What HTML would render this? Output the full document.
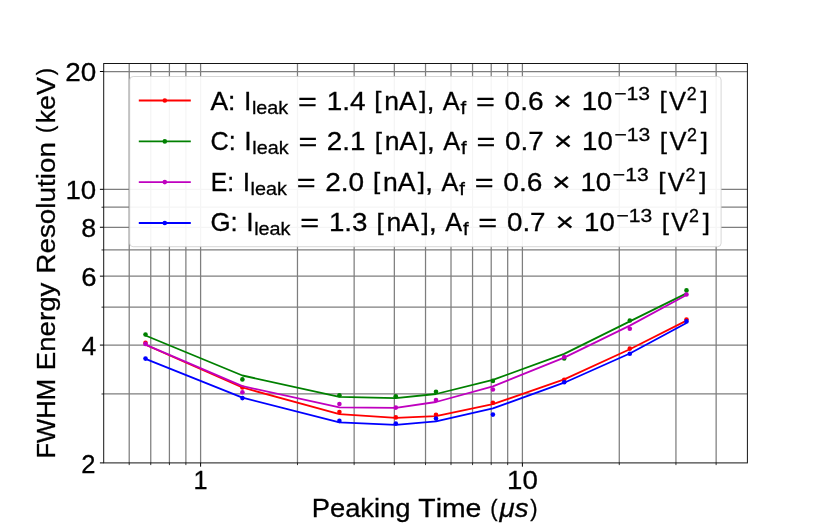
<!DOCTYPE html>
<html lang="en"><head><meta charset="utf-8"><title>FWHM Energy Resolution vs Peaking Time</title>
<style>html,body{margin:0;padding:0;background:#ffffff;}body{width:830px;height:529px;overflow:hidden;}svg{display:block;}text{font-family:"Liberation Sans",sans-serif;}</style></head>
<body>
<svg width="830" height="529" viewBox="0 0 830 529">
<rect x="0" y="0" width="830" height="529" fill="#ffffff"/>
<g stroke="#7e7e7e" stroke-width="1.25" fill="none">
<line x1="129.21" y1="63.5" x2="129.21" y2="462.9"/>
<line x1="150.75" y1="63.5" x2="150.75" y2="462.9"/>
<line x1="169.41" y1="63.5" x2="169.41" y2="462.9"/>
<line x1="185.88" y1="63.5" x2="185.88" y2="462.9"/>
<line x1="200.60" y1="63.5" x2="200.60" y2="462.9"/>
<line x1="297.47" y1="63.5" x2="297.47" y2="462.9"/>
<line x1="354.14" y1="63.5" x2="354.14" y2="462.9"/>
<line x1="394.34" y1="63.5" x2="394.34" y2="462.9"/>
<line x1="425.53" y1="63.5" x2="425.53" y2="462.9"/>
<line x1="451.01" y1="63.5" x2="451.01" y2="462.9"/>
<line x1="472.55" y1="63.5" x2="472.55" y2="462.9"/>
<line x1="491.21" y1="63.5" x2="491.21" y2="462.9"/>
<line x1="507.68" y1="63.5" x2="507.68" y2="462.9"/>
<line x1="522.40" y1="63.5" x2="522.40" y2="462.9"/>
<line x1="619.27" y1="63.5" x2="619.27" y2="462.9"/>
<line x1="675.94" y1="63.5" x2="675.94" y2="462.9"/>
<line x1="716.14" y1="63.5" x2="716.14" y2="462.9"/>
<line x1="103.7" y1="393.98" x2="747.4" y2="393.98"/>
<line x1="103.7" y1="345.08" x2="747.4" y2="345.08"/>
<line x1="103.7" y1="307.15" x2="747.4" y2="307.15"/>
<line x1="103.7" y1="276.15" x2="747.4" y2="276.15"/>
<line x1="103.7" y1="249.95" x2="747.4" y2="249.95"/>
<line x1="103.7" y1="227.25" x2="747.4" y2="227.25"/>
<line x1="103.7" y1="207.23" x2="747.4" y2="207.23"/>
<line x1="103.7" y1="189.32" x2="747.4" y2="189.32"/>
<line x1="103.7" y1="71.50" x2="747.4" y2="71.50"/>
</g>
<g fill="#ff0000"><circle cx="145.5" cy="342.9" r="2.3"/><circle cx="242.4" cy="387.5" r="2.3"/><circle cx="339.4" cy="412.0" r="2.3"/><circle cx="395.8" cy="417.4" r="2.3"/><circle cx="436.0" cy="414.8" r="2.3"/><circle cx="492.9" cy="402.8" r="2.3"/><circle cx="564.2" cy="379.8" r="2.3"/><circle cx="629.8" cy="348.6" r="2.3"/><circle cx="686.5" cy="319.5" r="2.3"/></g>
<polyline points="145.5,344.7 242.4,387.5 339.4,414.2 395.8,417.8 436.0,416.1 492.9,404.2 564.2,379.4 629.8,349.2 686.5,320.6" fill="none" stroke="#ff0000" stroke-width="1.8" stroke-linejoin="round" stroke-linecap="butt"/>
<g fill="#008000"><circle cx="145.5" cy="334.5" r="2.3"/><circle cx="242.4" cy="379.4" r="2.3"/><circle cx="339.4" cy="395.3" r="2.3"/><circle cx="395.8" cy="396.2" r="2.3"/><circle cx="436.0" cy="391.7" r="2.3"/><circle cx="492.9" cy="380.9" r="2.3"/><circle cx="564.2" cy="358.5" r="2.3"/><circle cx="629.8" cy="320.5" r="2.3"/><circle cx="686.5" cy="290.4" r="2.3"/></g>
<polyline points="145.5,335.5 242.4,375.5 339.4,396.8 395.8,398.2 436.0,394.0 492.9,379.9 564.2,353.9 629.8,321.4 686.5,293.4" fill="none" stroke="#008000" stroke-width="1.8" stroke-linejoin="round" stroke-linecap="butt"/>
<g fill="#bf00bf"><circle cx="145.5" cy="343.9" r="2.3"/><circle cx="242.4" cy="392.3" r="2.3"/><circle cx="339.4" cy="404.0" r="2.3"/><circle cx="395.8" cy="407.6" r="2.3"/><circle cx="436.0" cy="400.1" r="2.3"/><circle cx="492.9" cy="389.5" r="2.3"/><circle cx="564.2" cy="357.0" r="2.3"/><circle cx="629.8" cy="328.8" r="2.3"/><circle cx="686.5" cy="294.5" r="2.3"/></g>
<polyline points="145.5,344.7 242.4,386.1 339.4,407.4 395.8,407.8 436.0,402.0 492.9,386.3 564.2,357.6 629.8,325.6 686.5,295.0" fill="none" stroke="#bf00bf" stroke-width="1.8" stroke-linejoin="round" stroke-linecap="butt"/>
<g fill="#0000ff"><circle cx="145.5" cy="358.6" r="2.3"/><circle cx="242.4" cy="398.1" r="2.3"/><circle cx="339.4" cy="420.9" r="2.3"/><circle cx="395.8" cy="423.6" r="2.3"/><circle cx="436.0" cy="418.6" r="2.3"/><circle cx="492.9" cy="414.6" r="2.3"/><circle cx="564.2" cy="382.3" r="2.3"/><circle cx="629.8" cy="353.8" r="2.3"/><circle cx="686.5" cy="321.4" r="2.3"/></g>
<polyline points="145.5,358.8 242.4,397.7 339.4,422.3 395.8,424.8 436.0,421.3 492.9,408.4 564.2,382.7 629.8,353.5 686.5,323.0" fill="none" stroke="#0000ff" stroke-width="1.8" stroke-linejoin="round" stroke-linecap="butt"/>
<rect x="103.7" y="63.5" width="643.7" height="399.4" fill="none" stroke="#151515" stroke-width="1.0"/>
<g stroke="#000" stroke-width="1">
<line x1="200.60" y1="462.9" x2="200.60" y2="466.7"/>
<line x1="522.40" y1="462.9" x2="522.40" y2="466.7"/>
<line x1="129.21" y1="462.9" x2="129.21" y2="465.09999999999997" stroke-width="0.8"/>
<line x1="150.75" y1="462.9" x2="150.75" y2="465.09999999999997" stroke-width="0.8"/>
<line x1="169.41" y1="462.9" x2="169.41" y2="465.09999999999997" stroke-width="0.8"/>
<line x1="185.88" y1="462.9" x2="185.88" y2="465.09999999999997" stroke-width="0.8"/>
<line x1="297.47" y1="462.9" x2="297.47" y2="465.09999999999997" stroke-width="0.8"/>
<line x1="354.14" y1="462.9" x2="354.14" y2="465.09999999999997" stroke-width="0.8"/>
<line x1="394.34" y1="462.9" x2="394.34" y2="465.09999999999997" stroke-width="0.8"/>
<line x1="425.53" y1="462.9" x2="425.53" y2="465.09999999999997" stroke-width="0.8"/>
<line x1="451.01" y1="462.9" x2="451.01" y2="465.09999999999997" stroke-width="0.8"/>
<line x1="472.55" y1="462.9" x2="472.55" y2="465.09999999999997" stroke-width="0.8"/>
<line x1="491.21" y1="462.9" x2="491.21" y2="465.09999999999997" stroke-width="0.8"/>
<line x1="507.68" y1="462.9" x2="507.68" y2="465.09999999999997" stroke-width="0.8"/>
<line x1="619.27" y1="462.9" x2="619.27" y2="465.09999999999997" stroke-width="0.8"/>
<line x1="675.94" y1="462.9" x2="675.94" y2="465.09999999999997" stroke-width="0.8"/>
<line x1="716.14" y1="462.9" x2="716.14" y2="465.09999999999997" stroke-width="0.8"/>
<line x1="99.9" y1="462.90" x2="103.7" y2="462.90"/>
<line x1="99.9" y1="345.08" x2="103.7" y2="345.08"/>
<line x1="99.9" y1="276.15" x2="103.7" y2="276.15"/>
<line x1="99.9" y1="227.25" x2="103.7" y2="227.25"/>
<line x1="99.9" y1="189.32" x2="103.7" y2="189.32"/>
<line x1="99.9" y1="71.50" x2="103.7" y2="71.50"/>
<line x1="101.5" y1="393.98" x2="103.7" y2="393.98" stroke-width="0.8"/>
<line x1="101.5" y1="307.15" x2="103.7" y2="307.15" stroke-width="0.8"/>
<line x1="101.5" y1="249.95" x2="103.7" y2="249.95" stroke-width="0.8"/>
<line x1="101.5" y1="207.23" x2="103.7" y2="207.23" stroke-width="0.8"/>
</g>
<g font-family="&quot;Liberation Sans&quot;, sans-serif" fill="#000" stroke="#000" stroke-width="0.3" style="font-kerning:none;filter:grayscale(1)">
<text x="81.34" y="472.60" font-size="26.50" textLength="14.22" lengthAdjust="spacingAndGlyphs">2</text>
<text x="81.40" y="354.78" font-size="26.50" textLength="14.76" lengthAdjust="spacingAndGlyphs">4</text>
<text x="81.15" y="285.85" font-size="26.50" textLength="15.27" lengthAdjust="spacingAndGlyphs">6</text>
<text x="81.32" y="236.95" font-size="26.50" textLength="14.92" lengthAdjust="spacingAndGlyphs">8</text>
<text x="65.42" y="199.02" font-size="26.50" textLength="30.78" lengthAdjust="spacingAndGlyphs">10</text>
<text x="65.20" y="81.20" font-size="26.50" textLength="31.01" lengthAdjust="spacingAndGlyphs">20</text>
<text x="193.43" y="489.30" font-size="26.50" textLength="14.09" lengthAdjust="spacingAndGlyphs">1</text>
<text x="507.04" y="489.30" font-size="26.50" textLength="30.78" lengthAdjust="spacingAndGlyphs">10</text>
<text x="311.66" y="517.30" font-size="26.50" textLength="98.89" lengthAdjust="spacingAndGlyphs">Peaking</text>
<text x="418.36" y="517.30" font-size="26.50" textLength="63.03" lengthAdjust="spacingAndGlyphs">Time</text>
<text x="490.19" y="515.70" font-size="23.64" textLength="7.32" lengthAdjust="spacingAndGlyphs">(</text>
<text x="499.55" y="517.30" font-size="26.50" textLength="28.94" lengthAdjust="spacingAndGlyphs" font-style="italic">μs</text>
<text x="530.25" y="515.70" font-size="23.64" textLength="7.32" lengthAdjust="spacingAndGlyphs">)</text>
<g transform="translate(55.0,456.5) rotate(-90)">
<text x="-2.10" y="0.00" font-size="26.50" textLength="79.68" lengthAdjust="spacingAndGlyphs">FWHM</text>
<text x="86.20" y="0.00" font-size="26.50" textLength="87.67" lengthAdjust="spacingAndGlyphs">Energy</text>
<text x="182.80" y="0.00" font-size="26.50" textLength="131.66" lengthAdjust="spacingAndGlyphs">Resolution</text>
<text x="323.57" y="-1.60" font-size="23.64" textLength="7.32" lengthAdjust="spacingAndGlyphs">(</text>
<text x="333.20" y="0.00" font-size="26.50" textLength="46.02" lengthAdjust="spacingAndGlyphs">keV</text>
<text x="381.13" y="-1.60" font-size="23.64" textLength="7.32" lengthAdjust="spacingAndGlyphs">)</text>
</g>
</g>
<rect x="129.7" y="76.5" width="591.4" height="170.2" rx="3.5" ry="3.5" fill="#ffffff" fill-opacity="0.92" stroke="#cccccc" stroke-opacity="0.8" stroke-width="1"/>
<line x1="138.8" y1="100.5" x2="190.8" y2="100.5" stroke="#ff0000" stroke-width="1.8"/><circle cx="164.8" cy="100.5" r="2.3" fill="#ff0000"/>
<line x1="138.8" y1="141.4" x2="190.8" y2="141.4" stroke="#008000" stroke-width="1.8"/><circle cx="164.8" cy="141.4" r="2.3" fill="#008000"/>
<line x1="138.8" y1="182.1" x2="190.8" y2="182.1" stroke="#bf00bf" stroke-width="1.8"/><circle cx="164.8" cy="182.1" r="2.3" fill="#bf00bf"/>
<line x1="138.8" y1="223.0" x2="190.8" y2="223.0" stroke="#0000ff" stroke-width="1.8"/><circle cx="164.8" cy="223.0" r="2.3" fill="#0000ff"/>
<g font-family="&quot;Liberation Sans&quot;, sans-serif" fill="#000" stroke="#000" stroke-width="0.3" style="font-kerning:none;filter:grayscale(1)">
<text x="210.45" y="109.50" font-size="26.50" textLength="25.00" lengthAdjust="spacingAndGlyphs">A:</text>
<text x="243.96" y="109.50" font-size="26.50" textLength="7.40" lengthAdjust="spacingAndGlyphs">I</text>
<text x="251.93" y="113.60" font-size="18.55" textLength="36.29" lengthAdjust="spacingAndGlyphs">leak</text>
<text x="298.06" y="109.50" font-size="26.50" textLength="18.91" lengthAdjust="spacingAndGlyphs">=</text>
<text x="326.67" y="109.50" font-size="26.50" textLength="38.75" lengthAdjust="spacingAndGlyphs">1.4</text>
<text x="374.32" y="107.90" font-size="23.64" textLength="7.22" lengthAdjust="spacingAndGlyphs">[</text>
<text x="384.32" y="109.50" font-size="26.50" textLength="32.45" lengthAdjust="spacingAndGlyphs">nA</text>
<text x="419.19" y="107.90" font-size="23.64" textLength="7.22" lengthAdjust="spacingAndGlyphs">]</text>
<text x="426.42" y="109.50" font-size="26.50" textLength="8.10" lengthAdjust="spacingAndGlyphs">,</text>
<text x="442.86" y="109.50" font-size="26.50" textLength="16.89" lengthAdjust="spacingAndGlyphs">A</text>
<text x="460.63" y="113.60" font-size="18.55" textLength="5.67" lengthAdjust="spacingAndGlyphs">f</text>
<text x="476.11" y="109.50" font-size="26.50" textLength="18.91" lengthAdjust="spacingAndGlyphs">=</text>
<text x="504.64" y="109.50" font-size="26.50" textLength="39.07" lengthAdjust="spacingAndGlyphs">0.6</text>
<text x="553.29" y="109.50" font-size="26.50" textLength="18.57" lengthAdjust="spacingAndGlyphs">×</text>
<text x="581.76" y="109.50" font-size="26.50" textLength="30.75" lengthAdjust="spacingAndGlyphs">10</text>
<text x="614.15" y="99.90" font-size="18.55" textLength="35.82" lengthAdjust="spacingAndGlyphs">−13</text>
<text x="659.46" y="107.90" font-size="23.64" textLength="7.22" lengthAdjust="spacingAndGlyphs">[</text>
<text x="669.03" y="109.50" font-size="26.50" textLength="17.02" lengthAdjust="spacingAndGlyphs">V</text>
<text x="686.77" y="99.90" font-size="18.55" textLength="9.94" lengthAdjust="spacingAndGlyphs">2</text>
<text x="700.52" y="107.90" font-size="23.64" textLength="7.22" lengthAdjust="spacingAndGlyphs">]</text>
<text x="210.42" y="150.10" font-size="26.50" textLength="25.27" lengthAdjust="spacingAndGlyphs">C:</text>
<text x="244.33" y="150.10" font-size="26.50" textLength="7.37" lengthAdjust="spacingAndGlyphs">I</text>
<text x="252.29" y="154.20" font-size="18.55" textLength="36.27" lengthAdjust="spacingAndGlyphs">leak</text>
<text x="298.41" y="150.10" font-size="26.50" textLength="18.91" lengthAdjust="spacingAndGlyphs">=</text>
<text x="326.83" y="150.10" font-size="26.50" textLength="38.57" lengthAdjust="spacingAndGlyphs">2.1</text>
<text x="374.68" y="148.50" font-size="23.64" textLength="7.22" lengthAdjust="spacingAndGlyphs">[</text>
<text x="384.68" y="150.10" font-size="26.50" textLength="32.45" lengthAdjust="spacingAndGlyphs">nA</text>
<text x="419.54" y="148.50" font-size="23.64" textLength="7.22" lengthAdjust="spacingAndGlyphs">]</text>
<text x="426.78" y="150.10" font-size="26.50" textLength="8.10" lengthAdjust="spacingAndGlyphs">,</text>
<text x="443.22" y="150.10" font-size="26.50" textLength="16.89" lengthAdjust="spacingAndGlyphs">A</text>
<text x="460.98" y="154.20" font-size="18.55" textLength="5.67" lengthAdjust="spacingAndGlyphs">f</text>
<text x="476.46" y="150.10" font-size="26.50" textLength="18.91" lengthAdjust="spacingAndGlyphs">=</text>
<text x="505.01" y="150.10" font-size="26.50" textLength="38.64" lengthAdjust="spacingAndGlyphs">0.7</text>
<text x="553.65" y="150.10" font-size="26.50" textLength="18.57" lengthAdjust="spacingAndGlyphs">×</text>
<text x="582.11" y="150.10" font-size="26.50" textLength="30.73" lengthAdjust="spacingAndGlyphs">10</text>
<text x="614.49" y="140.50" font-size="18.55" textLength="35.84" lengthAdjust="spacingAndGlyphs">−13</text>
<text x="659.82" y="148.50" font-size="23.64" textLength="7.22" lengthAdjust="spacingAndGlyphs">[</text>
<text x="669.38" y="150.10" font-size="26.50" textLength="17.02" lengthAdjust="spacingAndGlyphs">V</text>
<text x="687.12" y="140.50" font-size="18.55" textLength="9.94" lengthAdjust="spacingAndGlyphs">2</text>
<text x="700.87" y="148.50" font-size="23.64" textLength="7.22" lengthAdjust="spacingAndGlyphs">]</text>
<text x="210.71" y="190.70" font-size="26.50" textLength="23.29" lengthAdjust="spacingAndGlyphs">E:</text>
<text x="242.66" y="190.70" font-size="26.50" textLength="7.37" lengthAdjust="spacingAndGlyphs">I</text>
<text x="250.63" y="194.80" font-size="18.55" textLength="36.27" lengthAdjust="spacingAndGlyphs">leak</text>
<text x="296.74" y="190.70" font-size="26.50" textLength="18.91" lengthAdjust="spacingAndGlyphs">=</text>
<text x="325.15" y="190.70" font-size="26.50" textLength="38.97" lengthAdjust="spacingAndGlyphs">2.0</text>
<text x="373.01" y="189.10" font-size="23.64" textLength="7.22" lengthAdjust="spacingAndGlyphs">[</text>
<text x="383.01" y="190.70" font-size="26.50" textLength="32.45" lengthAdjust="spacingAndGlyphs">nA</text>
<text x="417.87" y="189.10" font-size="23.64" textLength="7.22" lengthAdjust="spacingAndGlyphs">]</text>
<text x="425.11" y="190.70" font-size="26.50" textLength="8.10" lengthAdjust="spacingAndGlyphs">,</text>
<text x="441.56" y="190.70" font-size="26.50" textLength="16.89" lengthAdjust="spacingAndGlyphs">A</text>
<text x="459.31" y="194.80" font-size="18.55" textLength="5.67" lengthAdjust="spacingAndGlyphs">f</text>
<text x="474.79" y="190.70" font-size="26.50" textLength="18.91" lengthAdjust="spacingAndGlyphs">=</text>
<text x="503.33" y="190.70" font-size="26.50" textLength="39.06" lengthAdjust="spacingAndGlyphs">0.6</text>
<text x="551.98" y="190.70" font-size="26.50" textLength="18.57" lengthAdjust="spacingAndGlyphs">×</text>
<text x="580.44" y="190.70" font-size="26.50" textLength="30.75" lengthAdjust="spacingAndGlyphs">10</text>
<text x="612.84" y="181.10" font-size="18.55" textLength="35.84" lengthAdjust="spacingAndGlyphs">−13</text>
<text x="658.15" y="189.10" font-size="23.64" textLength="7.22" lengthAdjust="spacingAndGlyphs">[</text>
<text x="667.72" y="190.70" font-size="26.50" textLength="17.02" lengthAdjust="spacingAndGlyphs">V</text>
<text x="685.46" y="181.10" font-size="18.55" textLength="9.94" lengthAdjust="spacingAndGlyphs">2</text>
<text x="699.21" y="189.10" font-size="23.64" textLength="7.22" lengthAdjust="spacingAndGlyphs">]</text>
<text x="210.41" y="231.30" font-size="26.50" textLength="27.27" lengthAdjust="spacingAndGlyphs">G:</text>
<text x="246.26" y="231.30" font-size="26.50" textLength="7.37" lengthAdjust="spacingAndGlyphs">I</text>
<text x="254.21" y="235.40" font-size="18.55" textLength="36.29" lengthAdjust="spacingAndGlyphs">leak</text>
<text x="300.34" y="231.30" font-size="26.50" textLength="18.91" lengthAdjust="spacingAndGlyphs">=</text>
<text x="328.96" y="231.30" font-size="26.50" textLength="38.53" lengthAdjust="spacingAndGlyphs">1.3</text>
<text x="376.61" y="229.70" font-size="23.64" textLength="7.22" lengthAdjust="spacingAndGlyphs">[</text>
<text x="386.60" y="231.30" font-size="26.50" textLength="32.45" lengthAdjust="spacingAndGlyphs">nA</text>
<text x="421.47" y="229.70" font-size="23.64" textLength="7.22" lengthAdjust="spacingAndGlyphs">]</text>
<text x="428.71" y="231.30" font-size="26.50" textLength="8.10" lengthAdjust="spacingAndGlyphs">,</text>
<text x="445.15" y="231.30" font-size="26.50" textLength="16.89" lengthAdjust="spacingAndGlyphs">A</text>
<text x="462.91" y="235.40" font-size="18.55" textLength="5.67" lengthAdjust="spacingAndGlyphs">f</text>
<text x="478.39" y="231.30" font-size="26.50" textLength="18.91" lengthAdjust="spacingAndGlyphs">=</text>
<text x="506.93" y="231.30" font-size="26.50" textLength="38.66" lengthAdjust="spacingAndGlyphs">0.7</text>
<text x="555.58" y="231.30" font-size="26.50" textLength="18.57" lengthAdjust="spacingAndGlyphs">×</text>
<text x="584.04" y="231.30" font-size="26.50" textLength="30.75" lengthAdjust="spacingAndGlyphs">10</text>
<text x="616.44" y="221.70" font-size="18.55" textLength="35.84" lengthAdjust="spacingAndGlyphs">−13</text>
<text x="661.75" y="229.70" font-size="23.64" textLength="7.22" lengthAdjust="spacingAndGlyphs">[</text>
<text x="671.32" y="231.30" font-size="26.50" textLength="17.02" lengthAdjust="spacingAndGlyphs">V</text>
<text x="689.07" y="221.70" font-size="18.55" textLength="9.93" lengthAdjust="spacingAndGlyphs">2</text>
<text x="702.81" y="229.70" font-size="23.64" textLength="7.22" lengthAdjust="spacingAndGlyphs">]</text>
</g>
</svg>
</body></html>
